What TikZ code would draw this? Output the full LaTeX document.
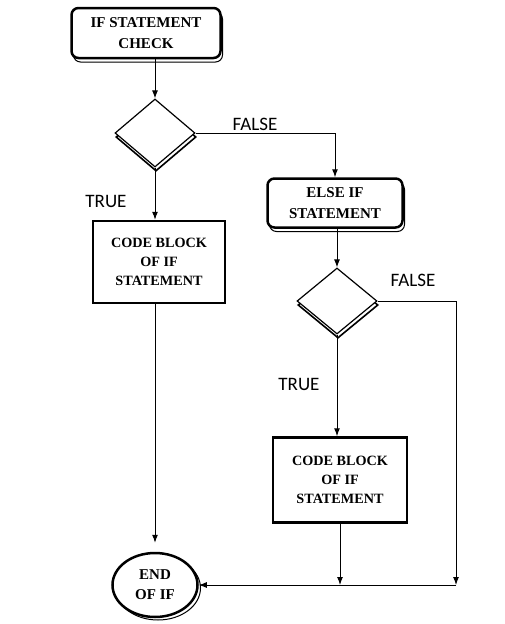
\documentclass[tikz,border=0pt]{standalone}
\usepackage{fontspec}
\setmainfont{Liberation Serif}
\newfontfamily\lblfont{Carlito}
\usetikzlibrary{shapes.geometric,positioning,arrows.meta,shadows}

\begin{document}
\begin{tikzpicture}[
  x=1pt,y=-1pt,
  >={Latex[length=8pt,width=6pt]},
  line width=1pt,
  bevel/.style={copy shadow={shadow xshift=2pt,shadow yshift=-4pt,draw=black,line width=1pt}},
  startbox/.style={draw,rounded corners=7pt,line width=2.5pt,fill=white,align=center,
    font=\fontsize{15}{21}\selectfont\bfseries,minimum width=149pt,minimum height=50pt,bevel},
  decision/.style={draw,diamond,aspect=1.2,line width=1.2pt,fill=white,minimum width=80pt,
    minimum height=68pt,inner sep=0pt,copy shadow={shadow xshift=1pt,shadow yshift=-4pt,draw=black,line width=1.6pt}},
  codebox/.style={draw,rectangle,line width=2.5pt,fill=white,align=center,
    font=\fontsize{14.2}{19}\selectfont\bfseries,minimum width=132pt,minimum height=82pt},
  endoval/.style={draw,ellipse,line width=2.5pt,fill=white,align=center,inner sep=0pt,
    font=\fontsize{15}{20}\selectfont\bfseries,minimum width=85pt,minimum height=64pt,
    copy shadow={shadow xshift=3pt,shadow yshift=-3pt,draw=black,line width=1pt}},
  lbl/.style={font=\lblfont\fontsize{19}{22}\selectfont,inner sep=0pt}
]
\useasboundingbox (0,0) rectangle (505,624);

% left branch
\node[startbox] (ifchk) at (146,33) {IF STATEMENT\\CHECK};
\node[decision] (dec1) at (155,133) {};
\node[codebox] (blk1) at (159,262) {CODE BLOCK\\OF IF\\STATEMENT};
\node[endoval] (endif) at (155,585) {END\\OF IF};

% right branch
\node[startbox,minimum width=135pt,minimum height=49pt] (elseif) at (335,203) {ELSE IF\\STATEMENT};
\node[decision,minimum height=66pt] (dec2) at (337,301) {};
\node[codebox,minimum width=134pt,minimum height=85pt] (blk2) at (340,480) {CODE BLOCK\\OF IF\\STATEMENT};
\coordinate (rc) at (456,585);

% labels
\node[lbl] (t1) at (106,201) {TRUE};
\node[lbl] (f1) at (255,124) {FALSE};
\node[lbl] (t2) at (299,384) {TRUE};
\node[lbl] (f2) at (413,280) {FALSE};

\path (ifchk.south -| dec1.north) edge[->] (dec1.north)
(dec1.south) edge[->] (dec1.south |- blk1.north)
(blk1.south -| endif.north) edge[->,shorten >=9pt] (endif.north)
(elseif.south -| dec2.north) edge[->] (dec2.north)
(dec2.south) edge[->] (dec2.south |- blk2.north)
(blk2.south) edge[->] (blk2.south |- rc)
(rc) edge[->] (endif.east)
;
\draw[->] (dec1.east) -| (elseif.north);
\draw[->] (dec2.east) -| (rc);

\end{tikzpicture}
\end{document}
